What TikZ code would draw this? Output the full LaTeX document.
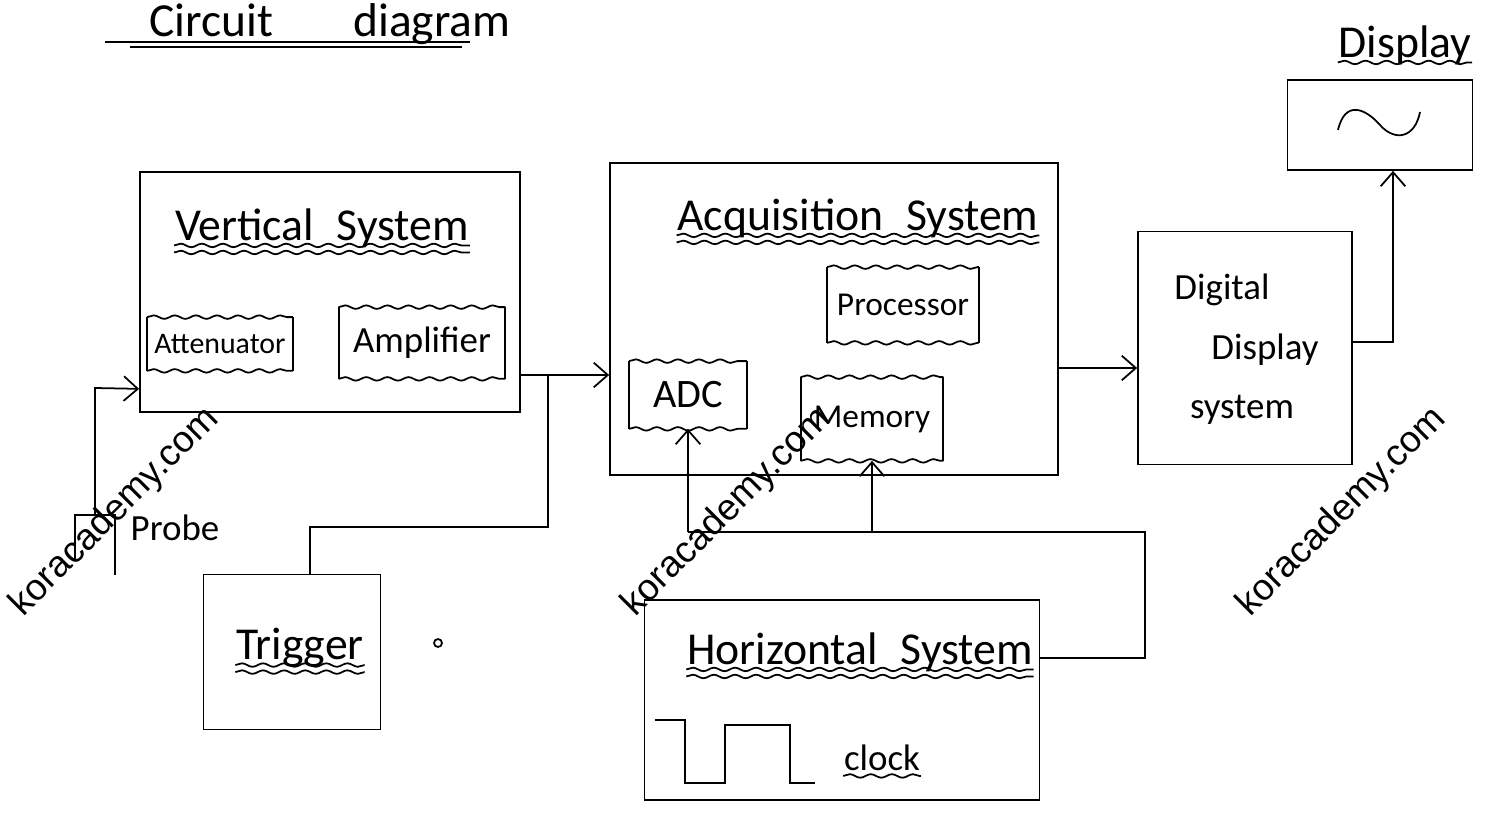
\documentclass[tikz,border=0pt]{standalone}
\usepackage{fontspec}
\setmainfont{Carlito}
\newfontfamily\markfont{Liberation Sans}
\usetikzlibrary{arrows.meta,decorations.pathmorphing}

\begin{document}
\begin{tikzpicture}[x=0.02cm,y=-0.02cm,line width=1pt,
  block/.style={draw,rectangle,inner sep=0pt},
  part/.style={rectangle,inner sep=0pt,font=\fontsize{19}{21}\selectfont},
  wave/.style={decorate,decoration={snake,amplitude=1pt,segment length=12pt}},
  head/.style={inner sep=0pt,font=\fontsize{26}{28}\selectfont},
  word/.style={inner sep=0pt,font=\fontsize{21}{23}\selectfont},
  wmark/.style={font=\markfont\fontsize{21}{21}\selectfont,rotate=45},
  >={Straight Barb[length=8pt,width=14pt]}]
\useasboundingbox (0,0) rectangle (1494,820);

% heading
\node[inner sep=0pt,font=\fontsize{27}{29}\selectfont,anchor=base] (title) at (330,37) {Circuit\hspace{1.6cm}diagram};
\draw (105,42) -- (470,42);
\draw (130,47) -- (462,47);

% main blocks
\node[block,minimum width=7.6cm,minimum height=4.8cm] (vert) at (330,292) {};
\node[block,minimum width=8.96cm,minimum height=6.24cm] (acq) at (834,319) {};
\node[block,minimum width=4.28cm,minimum height=4.66cm] (dds) at (1245,348) {};
\node[block,minimum width=3.7cm,minimum height=1.8cm] (disp) at (1380,125) {};
\node[block,minimum width=3.54cm,minimum height=3.1cm] (trig) at (292,652) {};
\node[block,minimum width=7.9cm,minimum height=4cm] (horiz) at (842,700) {};

% titles with wavy underlines
\node[head] (vtitle) at (322,228) {Vertical\enspace System};
\node[head] (atitle) at (858,218) {Acquisition\enspace System};
\node[head] (htitle) at (860,652) {Horizontal\enspace System};
\node[head] (ttitle) at (300,648) {Trigger};
\foreach \t in {vtitle,atitle,htitle,ttitle}
{ \draw[wave] ([yshift=-3pt]\t.base west) -- ([yshift=-3pt]\t.base east);
  \draw[wave] ([yshift=-7pt]\t.base west) -- ([yshift=-7pt]\t.base east);}
\node[head] (dtitle) at (1405,45) {Display};
\draw[wave] ([yshift=-3pt]dtitle.base west) -- ([yshift=-3pt]dtitle.base east);

% parts inside the blocks
\node[part,minimum width=2.88cm,minimum height=1.04cm,font=\fontsize{17}{19}\selectfont] (att) at (220,344) {Attenuator};
\node[part,minimum width=3.3cm,minimum height=1.4cm,font=\fontsize{21}{23}\selectfont] (amp) at (422,343) {Amplifier};
\node[part,minimum width=3cm,minimum height=1.48cm] (proc) at (903,305) {Processor};
\node[part,minimum width=2.32cm,minimum height=1.32cm,font=\fontsize{23}{25}\selectfont] (adc) at (688,395) {ADC};
\node[part,minimum width=2.82cm,minimum height=1.64cm] (mem) at (872,419) {Memory};
\foreach \p in {att,amp,proc,adc,mem}
{ \draw[wave] (\p.north west) -- (\p.north east);
  \draw[wave] (\p.south west) -- (\p.south east);
  \draw (\p.north west) -- (\p.south west) (\p.north east) -- (\p.south east);}

% other labels
\node[word] (dig) at (1222,290) {Digital};
\node[word] (digb) at (1265,350) {Display};
\node[word] (digc) at (1242,410) {system};
\node[word] (probetxt) at (175,528) {Probe};
\node[word] (clk) at (882,758) {clock};
\draw[wave] ([yshift=-3pt]clk.base west) -- ([yshift=-3pt]clk.base east);

% probe
\coordinate (probe) at (95,515);
\draw (75,560) -- (75,515) -- (115,515) -- (115,575);
\draw[->] (probe) -- (95,388) -- ([yshift=0.48cm]vert.south west);

% signal path
\coordinate (tap) at (548,375);
\coordinate (trigtop) at (310,527);
\draw[->] (vert.east |- tap) -- (acq.west |- tap);
\draw (tap) |- (trigtop) -- (trigtop |- trig.north);
\draw[->] (acq.east |- 0,368) -- (dds.west |- 0,368);
\coordinate (dout) at (1393,342);
\draw[->] (dds.east |- dout) -| (disp.south -| dout);

% time base to ADC and memory
\coordinate (hbus) at (1145,532);
\draw (horiz.east |- 0,658) -| (hbus) -- (adc.south |- hbus);
\draw[->] (adc.south |- hbus) -- (adc.south);
\draw[->] (mem.south |- hbus) -- (mem.south);

% clock pulses and trace
\draw (655,720) -- (685,720) -- (685,783) -- (725,783) -- (725,725) -- (790,725) -- (790,783) -- (815,783);
\draw (1338,130) .. controls (1345,100) and (1365,108) .. (1380,125) .. controls (1395,142) and (1415,138) .. (1420,112);
\draw (438,643) circle (4);

% watermarks
\foreach \wx in {115,727,1342}
{ \node[wmark] (wm\wx) at (\wx,512) {koracademy.com};}
\end{tikzpicture}
\end{document}
